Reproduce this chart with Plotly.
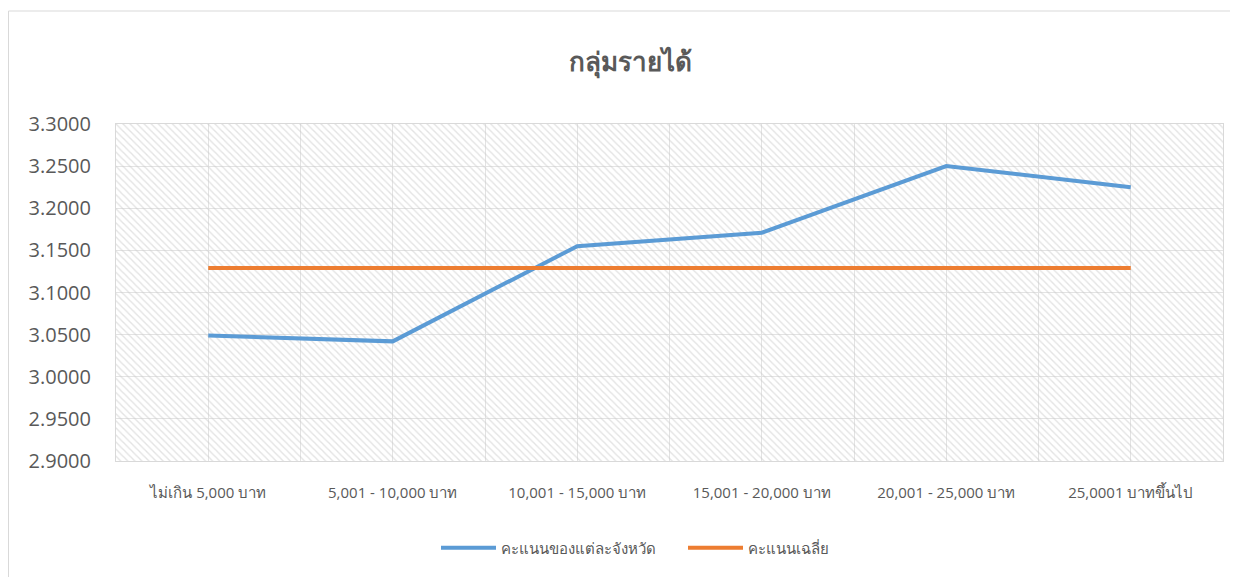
import plotly.graph_objects as go

categories = ["ไม่เกิน 5,000 บาท", "5,001 - 10,000 บาท", "10,001 - 15,000 บาท",
              "15,001 - 20,000 บาท", "20,001 - 25,000 บาท", "25,0001 บาทขึ้นไป"]
province_scores = [3.049, 3.042, 3.155, 3.171, 3.250, 3.225]
average_score = [3.129] * 6
y_ticks = [2.90, 2.95, 3.00, 3.05, 3.10, 3.15, 3.20, 3.25, 3.30]

x_idx = list(range(len(categories)))
x_lo, x_hi = -0.5, len(categories) - 0.5
y_lo, y_hi = y_ticks[0], y_ticks[-1]

FONT = "Open Sans, Noto Sans, sans-serif"
GRID = "#e3e3e3"
W, H = 1230, 569
L, R, T, B = 108, 15, 116, 116
PW, PH = W - L - R, H - T - B

fig = go.Figure()
# hatched plot-area background
fig.add_trace(go.Scatter(
    x=[x_lo, x_hi, x_hi, x_lo, x_lo], y=[y_lo, y_lo, y_hi, y_hi, y_lo],
    mode="none", fill="toself", fillcolor="rgba(0,0,0,0)",
    fillpattern=dict(shape="\\", fgcolor="#c8c8c8", bgcolor="rgba(0,0,0,0)",
                     size=5, solidity=0.28, fillmode="overlay"),
    showlegend=False, hoverinfo="skip"))
fig.add_trace(go.Scatter(x=x_idx, y=province_scores, mode="lines",
                         name="คะแนนของแต่ละจังหวัด",
                         line=dict(color="#5B9BD5", width=4)))
fig.add_trace(go.Scatter(x=x_idx, y=average_score, mode="lines",
                         name="คะแนนเฉลี่ย",
                         line=dict(color="#ED7D31", width=4)))

fig.update_layout(
    width=W, height=H, autosize=False,
    margin=dict(l=L, r=R, t=T, b=B),
    paper_bgcolor="white", plot_bgcolor="white",
    font=dict(family=FONT, color="#595959"),
    title=dict(text="<b>กลุ่มรายได้</b>", x=622 / W, xref="container", xanchor="center",
               y=1 - 54 / H, yref="container", yanchor="middle",
               font=dict(size=26, color="#595959", family=FONT)),
    legend=dict(orientation="h", x=(428 - L) / PW, xanchor="left",
                y=(PH + T - 540) / PH, yanchor="middle",
                font=dict(size=15, color="#595959"), itemwidth=55, tracegroupgap=0,
                entrywidth=177, entrywidthmode="pixels"),
    xaxis=dict(range=[x_lo, x_hi], tickmode="array", tickvals=x_idx, ticktext=categories,
               showgrid=True, gridcolor=GRID, gridwidth=1,
               minor=dict(tickmode="linear", tick0=0.5, dtick=1, showgrid=True,
                          gridcolor=GRID, gridwidth=1, ticks=""),
               showline=True, linecolor="#d9d9d9", mirror=True, zeroline=False,
               ticks="", ticklabelstandoff=18,
               tickfont=dict(size=15, color="#595959")),
    yaxis=dict(range=[y_lo, y_hi], tickmode="array", tickvals=y_ticks,
               tickformat=".4f", showgrid=True, gridcolor=GRID, gridwidth=1,
               showline=True, linecolor="#d9d9d9", mirror=True, zeroline=False,
               ticks="", ticklabelstandoff=20,
               tickfont=dict(size=20, color="#595959")),
    shapes=[dict(type="rect", xref="paper", yref="paper",
                 x0=(0.5 - L) / PW, x1=(W + 5 - L) / PW,
                 y0=(PH + T - H - 10) / PH, y1=(PH + T - 3) / PH,
                 line=dict(color="#d9d9d9", width=1), fillcolor="rgba(0,0,0,0)",
                 layer="below")],
)

fig.write_html("out.html")
